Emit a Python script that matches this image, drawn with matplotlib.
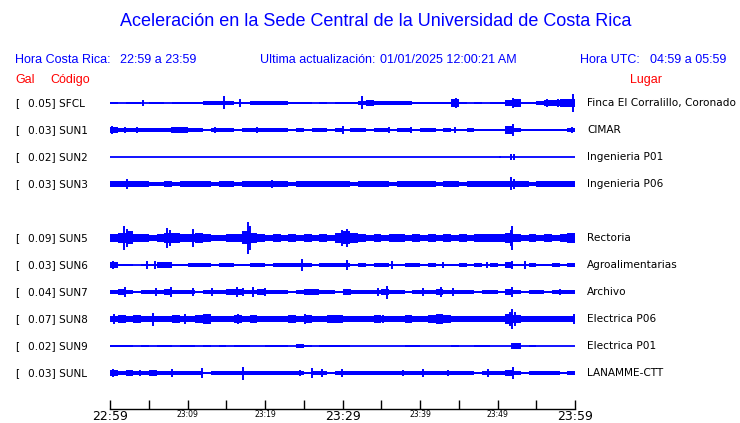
import numpy as np
import matplotlib
matplotlib.use("Agg")
import matplotlib.pyplot as plt

# ---------------- data ----------------
codes = ["SFCL", "SUN1", "SUN2", "SUN3", "SUN5", "SUN6", "SUN7", "SUN8", "SUN9", "SUNL"]
gal = ["0.05", "0.03", "0.02", "0.03", "0.09", "0.03", "0.04", "0.07", "0.02", "0.03"]
places = ["Finca El Corralillo, Coronado", "CIMAR", "Ingenieria P01", "Ingenieria P06",
          "Rectoria", "Agroalimentarias", "Archivo", "Electrica P06", "Electrica P01",
          "LANAMME-CTT"]
slots = [0, 1, 2, 3, 5, 6, 7, 8, 9, 10]   # row index (row 4 empty)

time_labels = ["22:59", "", "23:09", "", "23:19", "", "23:29", "", "23:39", "", "23:49", "", "23:59"]

# envelope amplitude per minute (0..59)
env_SFCL = [1, 0, 1, 1, 0, 1, 1, 0, 1, 1, 1, 1, 1.5, 1.5, 1.5, 1.5, 1, 1, 1.5, 1.5,
            1.5, 1.5, 1.5, 1, 0.5, 1, 0, 1, 0, 1, 1, 1, 1.5, 2, 1.5, 1.5, 1.5, 1.5, 1.5, 1,
            1, 1, 0.5, 1, 3, 0.5, 0, 0.5, 0, 0.5, 1, 2, 3, 1, 0.5, 1.5, 2, 2, 3, 3]
env_SUN1 = [2, 1.5, 1.5, 1.5, 1.5, 1.5, 1.5, 1.5, 2, 2, 1.5, 1.5, 1, 1.5, 1.5, 1.5, 1, 1.5, 1.5, 1.5,
            1.5, 1.5, 1.5, 1, 1.5, 1, 1.5, 1.5, 1, 1.5, 1, 1.5, 1.5, 1, 1.5, 1.5, 1, 1.5, 1.5, 1,
            1.5, 1.5, 1, 1.5, 1, 1, 1.5, 1, 1, 1, 1, 3, 1.5, 1, 0.5, 1, 0.5, 1, 1, 1.5]
env_SUN2 = [0] * 60
env_SUN3 = [2, 2, 2, 2, 2, 1.5, 1.5, 2, 1.5, 2, 2, 2, 2, 1.5, 2, 2, 1.5, 2, 2, 2,
            2, 2, 2, 1.5, 2, 2, 2, 2, 2, 2, 2, 1.5, 2, 2, 2, 2, 1.5, 2, 2, 2,
            2, 2, 1.5, 2, 2, 1.5, 2, 2, 2, 2, 2, 2.5, 2, 2, 1.5, 2, 2, 2, 2, 2]
env_SUN5 = [3, 4, 5, 3, 3, 2.5, 3, 4, 4, 3, 3, 4, 3, 2.5, 2.5, 3, 3, 5, 4, 3,
            2.5, 3, 2.5, 3, 2.5, 3, 2.5, 3, 2.5, 4, 5, 4, 3, 2.5, 3, 2.5, 3, 3, 2.5, 3,
            2.5, 3, 2.5, 3, 2.5, 3, 2.5, 3, 3, 3, 3, 4, 3, 2.5, 3, 2.5, 3, 2.5, 3, 3.5]
env_SUN6 = [2.5, 0.5, 1, 0, 1, 1, 2, 2, 1, 1, 1.5, 1.5, 1.5, 1, 1.5, 1.5, 1, 0.5, 1.5, 1.5,
            1, 1.5, 1.5, 1.5, 1.5, 1.5, 1, 1.5, 1.5, 1.5, 1.5, 1, 1.5, 1, 1.5, 1.5, 1, 1, 1.5, 1.5,
            1, 1.5, 1, 0.5, 1, 1.5, 1, 1.5, 1, 1.5, 1, 2, 1, 1, 1.5, 0.5, 1, 1.5, 1, 1.5]
env_SUN7 = [1.5, 2, 1.5, 1, 1.5, 1.5, 1.5, 2.5, 1.5, 1.5, 1.5, 1, 1.5, 1.5, 1.5, 2, 2, 1.5, 1.5, 2,
            1.5, 1.5, 1.5, 1, 1.5, 2, 2, 1.5, 1.5, 1, 2, 1.5, 1.5, 1.5, 1.5, 2.5, 1.5, 1.5, 1, 1.5,
            1.5, 1.5, 2, 1.5, 1.5, 1.5, 1.5, 1, 1.5, 1.5, 1, 2.5, 1.5, 1, 1.5, 1.5, 1, 1.5, 1.5, 1.5]
env_SUN8 = [2.5, 3, 2.5, 3, 2.5, 2, 2.5, 2.5, 3, 2.5, 2.5, 3, 3.5, 2.5, 2.5, 2.5, 3, 2.5, 3, 2.5,
            2.5, 2.5, 2.5, 3, 2.5, 3, 2.5, 2.5, 3, 3, 2.5, 2.5, 2.5, 2.5, 3, 2.5, 2.5, 2.5, 3, 2.5,
            2.5, 3, 3.5, 3, 2.5, 2.5, 2.5, 2.5, 2, 2.5, 2.5, 4, 3, 2.5, 2.5, 2.5, 2.5, 2.5, 2.5, 2.5]
env_SUN9 = [1, 1, 1, 0, 1, 0, 1, 1, 0, 1, 1, 0, 1, 0, 1, 0, 1, 1, 0, 0,
            1, 1, 1, 0, 1.5, 1, 0, 1, 1, 1, 1, 0, 0, 0, 0, 0, 0, 0, 1, 1,
            0, 0, 0, 0, 1, 0, 0, 1, 1, 0, 0, 0, 2, 0, 1, 0, 0, 0, 0, 0]
env_SUNL = [2, 1.5, 2, 1.5, 1.5, 2, 1.5, 1.5, 1.5, 1.5, 1.5, 1.5, 1, 1.5, 1.5, 1.5, 1.5, 1.5, 1.5, 1.5,
            1.5, 1.5, 1.5, 1.5, 1.5, 1, 1.5, 1.5, 1, 1.5, 1.5, 1.5, 1.5, 1.5, 1.5, 1.5, 1.5, 1.5, 1.5, 1.5,
            1.5, 1.5, 1.5, 1.5, 1.5, 1.5, 1.5, 1, 1.5, 1.5, 1.5, 2, 1.5, 1, 1.5, 1.5, 1.5, 1.5, 1, 1.5]

# prominent peaks: minute of peak, peak amplitude
spk_t_SFCL = [4.2, 14.7, 16.8, 32.5, 44.6, 52.0, 56.4, 57.8, 59.7]
spk_a_SFCL = [2.5, 5, 3, 5, 3.5, 3.5, 3, 3, 7]
spk_t_SUN1 = [0.3, 0.9, 1.9, 3.5, 8.0, 9.6, 13.5, 19.0, 30.1, 36.0, 38.9, 44.5, 52.0, 59.6]
spk_a_SUN1 = [3, 2.5, 2.5, 2, 2.5, 2.5, 2, 2.5, 3, 2.5, 2, 2, 4.5, 2]
spk_t_SUN2 = [50.3, 51.8, 52.1]
spk_a_SUN2 = [1, 2.5, 2.5]
spk_t_SUN3 = [0.7, 2.2, 17.8, 20.9, 51.8, 52.1]
spk_a_SUN3 = [2, 3.5, 2.5, 3, 5, 4]
spk_t_SUN5 = [1.8, 2.2, 7.4, 7.8, 10.7, 17.8, 18.1, 29.9, 30.6, 51.9, 51.7, 59.9]
spk_a_SUN5 = [9, 7, 8, 6, 7, 12, 9, 6, 7, 9, 6, 4]
spk_t_SUN6 = [0.4, 4.8, 5.8, 24.8, 30.6, 36.4, 43.0, 48.6, 51.9, 53.5]
spk_a_SUN6 = [3, 3, 3, 4.5, 4, 3, 2.5, 2.5, 3, 3]
spk_t_SUN7 = [1.9, 5.9, 7.9, 10.7, 13.2, 16.4, 17.2, 18.4, 20.0, 31.0, 34.6, 35.8, 40.4, 42.7, 44.2, 51.9, 58.0]
spk_a_SUN7 = [3.5, 3, 3.5, 3, 3, 3.5, 3, 3.5, 3, 2.5, 3, 5, 3, 3.5, 3, 4, 2.5]
spk_t_SUN8 = [0.5, 5.6, 9.7, 12.1, 16.5, 25.2, 35.2, 43.9, 51.6, 51.9, 52.3, 59.9]
spk_a_SUN8 = [3.5, 5, 3.5, 3.5, 3.5, 4, 3, 3, 5.5, 8, 5.5, 3.5]
spk_t_SUN9 = [24.7, 51.9]
spk_a_SUN9 = [1.5, 2.5]
spk_t_SUNL = [0.4, 2.6, 3.9, 8.0, 11.9, 17.2, 24.5, 26.1, 27.4, 29.9, 37.8, 40.4, 43.6, 48.8, 52.0]
spk_a_SUNL = [3, 2.5, 2.5, 3, 3.5, 5, 2.5, 3.5, 3, 3, 2.5, 3, 2.5, 3, 4.5]

envs = [env_SFCL, env_SUN1, env_SUN2, env_SUN3, env_SUN5, env_SUN6, env_SUN7, env_SUN8, env_SUN9, env_SUNL]
spk_t = [spk_t_SFCL, spk_t_SUN1, spk_t_SUN2, spk_t_SUN3, spk_t_SUN5, spk_t_SUN6, spk_t_SUN7, spk_t_SUN8, spk_t_SUN9, spk_t_SUNL]
spk_a = [spk_a_SFCL, spk_a_SUN1, spk_a_SUN2, spk_a_SUN3, spk_a_SUN5, spk_a_SUN6, spk_a_SUN7, spk_a_SUN8, spk_a_SUN9, spk_a_SUNL]

# ---------------- layout ----------------
W, H = 740, 423
fig = plt.figure(figsize=(W / 100, H / 100), dpi=100)
BLUE = "#0000ff"
RED = "#ff0000"
SANS = ["Liberation Sans", "DejaVu Sans"]

def fx(px):
    return px / W

def fy(py):
    return 1 - py / H

ROW0, ROWSTEP = 103, 27
ax_left, ax_right, ax_top, ax_bot = 110, 575, 90, 409
ax = fig.add_axes([fx(ax_left), fy(ax_bot), (ax_right - ax_left) / W, (ax_bot - ax_top) / H])
scale = 1.3 / ROWSTEP  # amplitude units -> row units
ax.set_xlim(0, 60)
ax.set_ylim(-(ax_bot - ROW0) / ROWSTEP, (ROW0 - ax_top) / ROWSTEP)

edges = np.arange(61)
for slot, env, ts, amps in zip(slots, envs, spk_t, spk_a):
    y0 = -slot
    ax.plot([0, 60], [y0, y0], color=BLUE, lw=1.3, solid_capstyle="butt")
    e = np.append(np.asarray(env, float), env[-1]) * scale
    ax.fill_between(edges, y0 - e, y0 + e, step="post", color=BLUE, lw=0)
    ts = np.asarray(ts, float)
    a = np.asarray(amps, float) * scale
    ax.vlines(ts, y0 - a, y0 + a, color=BLUE, lw=1.4)

for s in ["top", "left", "right"]:
    ax.spines[s].set_visible(False)
ax.spines["bottom"].set_linewidth(1.0)
ax.set_yticks([])
ax.set_xticks(np.arange(0, 61, 5))
ax.set_xticklabels(time_labels)
ax.tick_params(axis="x", direction="in", length=6.5, width=1.0, pad=0.5, colors="black")
for lab in ax.get_xticklabels():
    if lab.get_text() in ("22:59", "23:29", "23:59"):
        lab.set_fontsize(9)
    else:
        lab.set_fontsize(5.5)

# row labels
rs = 7.6
for slot, g, c, p in zip(slots, gal, codes, places):
    yy = fy(ROW0 + ROWSTEP * slot)
    fig.text(fx(15), yy, "[", fontsize=rs, va="center", ha="left", family="DejaVu Sans")
    fig.text(fx(28), yy, f"{g}] {c}", fontsize=rs, va="center", ha="left", family="DejaVu Sans")
    fig.text(fx(587), yy, p, fontsize=rs, va="center", ha="left", family="DejaVu Sans")

# titles and headers
fig.text(fx(376), fy(22), "Aceleración en la Sede Central de la Universidad de Costa Rica",
         fontsize=13, color=BLUE, ha="center", va="center", family=SANS)
hs = 9
fig.text(fx(15), fy(60), "Hora Costa Rica:", fontsize=hs, color=BLUE, va="center", family=SANS)
fig.text(fx(120), fy(60), "22:59 a 23:59", fontsize=hs, color=BLUE, va="center", family=SANS)
fig.text(fx(260), fy(60), "Ultima actualización:", fontsize=hs, color=BLUE, va="center", family=SANS)
fig.text(fx(380), fy(60), "01/01/2025 12:00:21 AM", fontsize=hs, color=BLUE, va="center", family=SANS)
fig.text(fx(580), fy(60), "Hora UTC:", fontsize=hs, color=BLUE, va="center", family=SANS)
fig.text(fx(650), fy(60), "04:59 a 05:59", fontsize=hs, color=BLUE, va="center", family=SANS)
fig.text(fx(15), fy(80), "Gal", fontsize=hs, color=RED, va="center", family=SANS)
fig.text(fx(50), fy(80), "Código", fontsize=hs, color=RED, va="center", family=SANS)
fig.text(fx(630), fy(80), "Lugar", fontsize=hs, color=RED, va="center", family=SANS)

fig.savefig("out.png", dpi=100)
